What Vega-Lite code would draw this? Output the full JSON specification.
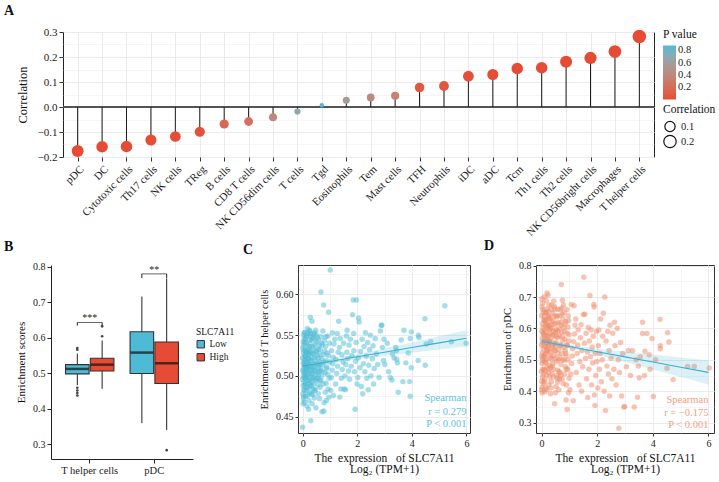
{
"$schema": "https://vega.github.io/schema/vega-lite/v6.json",
"background": "white",
"padding": {"left": 3, "top": 3, "right": 0, "bottom": 0},
"config": {
  "font": "Liberation Serif",
  "axis": {"labelFont": "Liberation Serif", "titleFont": "Liberation Serif", "labelColor": "#1a1a1a", "titleColor": "#111", "tickColor": "#333", "domainColor": "#222", "titleFontWeight": "normal", "labelOverlap": false},
  "legend": {"labelFont": "Liberation Serif", "titleFont": "Liberation Serif", "titleFontWeight": "normal", "labelColor": "#1a1a1a", "titleColor": "#111"},
  "title": {"font": "Liberation Serif", "fontWeight": "bold", "fontSize": 14, "anchor": "start", "frame": "group", "color": "#111"},
  "view": {"stroke": null}
},
"resolve": {"scale": {"color": "independent", "size": "independent", "x": "independent", "y": "independent"}, "legend": {"color": "independent", "size": "independent"}},
"spacing": 0,
"vconcat": [
{
  "bounds": "flush",
  "spacing": 11,
  "resolve": {"scale": {"color": "independent", "size": "independent", "x": "independent", "y": "independent"}, "legend": {"color": "independent", "size": "independent"}},
  "hconcat": [
  {"width": 1, "height": 125, "data": {"values": []}, "mark": "point"},
  {
  "title": {"text": "A", "dx": -59, "offset": 8},
  "width": 591, "height": 125,
  "view": {"stroke": "#222", "strokeWidth": 1},
  "data": {"values": [
    {"cell": "pDC", "r": -0.176, "p": 0.0003},
    {"cell": "DC", "r": -0.159, "p": 0.001},
    {"cell": "Cytotoxic cells", "r": -0.158, "p": 0.001},
    {"cell": "Th17 cells", "r": -0.132, "p": 0.005},
    {"cell": "NK cells", "r": -0.118, "p": 0.01},
    {"cell": "TReg", "r": -0.099, "p": 0.03},
    {"cell": "B cells", "r": -0.068, "p": 0.17},
    {"cell": "CD8 T cells", "r": -0.058, "p": 0.22},
    {"cell": "NK CD56dim cells", "r": -0.041, "p": 0.40},
    {"cell": "T cells", "r": -0.018, "p": 0.70},
    {"cell": "Tgd", "r": 0.007, "p": 0.88},
    {"cell": "Eosinophils", "r": 0.027, "p": 0.56},
    {"cell": "Tem", "r": 0.038, "p": 0.43},
    {"cell": "Mast cells", "r": 0.045, "p": 0.36},
    {"cell": "TFH", "r": 0.078, "p": 0.06},
    {"cell": "Neutrophils", "r": 0.084, "p": 0.05},
    {"cell": "iDC", "r": 0.123, "p": 0.008},
    {"cell": "aDC", "r": 0.130, "p": 0.006},
    {"cell": "Tcm", "r": 0.154, "p": 0.001},
    {"cell": "Th1 cells", "r": 0.157, "p": 0.001},
    {"cell": "Th2 cells", "r": 0.181, "p": 0.0002},
    {"cell": "NK CD56bright cells", "r": 0.196, "p": 0.0001},
    {"cell": "Macrophages", "r": 0.222, "p": 0.00001},
    {"cell": "T helper cells", "r": 0.282, "p": 0.0}
  ]},
  "transform": [{"calculate": "abs(datum.r)", "as": "absr"}],
  "encoding": {
    "y": {"field": "r", "type": "quantitative", "scale": {"domain": [-0.2, 0.3], "nice": false, "zero": false},
      "axis": {"title": "Correlation", "titleFontSize": 12.5, "labelFontSize": 11, "titlePadding": 8,
        "values": [-0.2, -0.15, -0.1, -0.05, 0, 0.05, 0.1, 0.15, 0.2, 0.25, 0.3],
        "labelExpr": "abs(datum.value*10 - round(datum.value*10)) < 0.001 ? format(datum.value, '.1f') : ''",
        "tickOpacity": {"condition": {"test": "abs(datum.value*10 - round(datum.value*10)) > 0.001", "value": 0}, "value": 1},
        "gridWidth": {"condition": {"test": "abs(datum.value*10 - round(datum.value*10)) > 0.001", "value": 0.5}, "value": 1},
        "grid": true, "gridColor": "#EBEBEB", "domain": false, "tickSize": 4}}
  },
  "layer": [
    {"mark": {"type": "rule", "color": "#555", "strokeWidth": 1}, "encoding": {"y": {"datum": 0}}},
    {"mark": {"type": "rule", "color": "#1a1a1a", "strokeWidth": 1}, "encoding": {
      "x": {"field": "cell", "type": "nominal", "sort": null, "scale": {"type": "point", "padding": 0.6},
        "axis": {"title": null, "labelAngle": -45, "labelFontSize": 11, "grid": true, "gridColor": "#EBEBEB", "domain": false, "tickSize": 4, "tickColor": "#333", "labelPadding": 2}},
      "y2": {"datum": 0}}},
    {"mark": {"type": "circle", "opacity": 1}, "encoding": {
      "x": {"field": "cell", "type": "nominal", "sort": null, "scale": {"type": "point", "padding": 0.6},
        "axis": {"title": null, "labelAngle": -45, "labelFontSize": 11, "grid": true, "gridColor": "#EBEBEB", "domain": false, "tickSize": 4, "tickColor": "#333", "labelPadding": 2}},
      "color": {"field": "p", "type": "quantitative", "scale": {"domain": [0, 0.88], "range": ["#E64B35", "#4DBBD5"], "interpolate": "lab"},
        "legend": {"title": "P value", "orient": "none", "legendX": 600, "legendY": -3, "gradientLength": 54, "gradientThickness": 13, "values": [0.2, 0.4, 0.6, 0.8], "labelFontSize": 10.5, "titleFontSize": 11.5, "gradientStrokeWidth": 0}},
      "size": {"field": "absr", "type": "quantitative", "scale": {"type": "sqrt", "zero": false, "domain": [0.007, 0.282], "range": [20, 184]},
        "legend": {"title": "Correlation", "orient": "none", "legendX": 600, "legendY": 72, "values": [0.1, 0.2], "format": ".1f", "rowPadding": -4, "symbolFillColor": "white", "symbolStrokeColor": "#111", "symbolStrokeWidth": 1.2, "labelFontSize": 10.5, "titleFontSize": 11.5, "symbolOpacity": 1}}
    }}
  ]
  }
  ]
},
{
  "bounds": "flush",
  "spacing": 105,
  "resolve": {"scale": {"color": "independent", "x": "independent", "y": "independent"}, "legend": {"color": "independent"}},
  "hconcat": [
  {
    "title": {"text": "B", "dx": -47, "offset": 8},
    "width": 142, "height": 194,
    "encoding": {
      "x": {"field": "cell", "type": "nominal", "sort": null, "scale": {"domain": ["T helper cells", "pDC"], "paddingInner": 0.25, "paddingOuter": 0.225},
        "axis": {"title": null, "labelAngle": 0, "labelFontSize": 10.5, "domain": true, "tickSize": 4, "grid": false, "tickColor": "#222"}},
      "y": {"field": "v", "type": "quantitative", "scale": {"domain": [0.258, 0.805], "nice": false, "zero": false},
        "axis": {"title": "Enrichment scores", "titleFontSize": 11, "labelFontSize": 10, "values": [0.3, 0.4, 0.5, 0.6, 0.7, 0.8], "format": ".1f", "grid": false, "domain": true, "tickSize": 4, "tickColor": "#222", "titlePadding": 6, "labelOverlap": false}}
    },
    "layer": [
      {"data": {"values": [
        {"cell": "T helper cells", "grp": "Low", "v": 0.466, "v2": 0.555},
        {"cell": "T helper cells", "grp": "High", "v": 0.456, "v2": 0.592},
        {"cell": "pDC", "grp": "Low", "v": 0.359, "v2": 0.716},
        {"cell": "pDC", "grp": "High", "v": 0.340, "v2": 0.767}
       ]},
       "mark": {"type": "rule", "color": "#222", "strokeWidth": 1},
       "encoding": {
         "xOffset": {"field": "grp", "type": "nominal", "scale": {"domain": ["Low", "High"], "paddingInner": 0.05}},
         "y2": {"field": "v2"}}},
      {"data": {"values": [
        {"cell": "T helper cells", "grp": "Low", "v": 0.498, "v2": 0.524},
        {"cell": "T helper cells", "grp": "High", "v": 0.506, "v2": 0.542},
        {"cell": "pDC", "grp": "Low", "v": 0.499, "v2": 0.617},
        {"cell": "pDC", "grp": "High", "v": 0.471, "v2": 0.588}
       ]},
       "mark": {"type": "bar", "stroke": "#333", "strokeWidth": 1.1},
       "encoding": {
         "xOffset": {"field": "grp", "type": "nominal", "scale": {"domain": ["Low", "High"], "paddingInner": 0.05}},
         "y2": {"field": "v2"},
         "color": {"field": "grp", "type": "nominal", "scale": {"domain": ["Low", "High"], "range": ["#4DBBD5", "#E64B35"]},
           "legend": {"title": "SLC7A11", "orient": "none", "legendX": 145, "legendY": 62, "symbolType": "square", "symbolSize": 55, "symbolStrokeColor": "#333", "symbolStrokeWidth": 1, "labelFontSize": 9.5, "titleFontSize": 9.5, "rowPadding": 1, "titlePadding": 3}}}},
      {"data": {"values": [
        {"cell": "T helper cells", "grp": "Low", "v": 0.512},
        {"cell": "T helper cells", "grp": "High", "v": 0.524},
        {"cell": "pDC", "grp": "Low", "v": 0.558},
        {"cell": "pDC", "grp": "High", "v": 0.528}
       ]},
       "mark": {"type": "tick", "color": "#111", "thickness": 2.5, "size": 23, "orient": "horizontal"},
       "encoding": {
         "xOffset": {"field": "grp", "type": "nominal", "scale": {"domain": ["Low", "High"], "paddingInner": 0.05}}}},
      {"data": {"values": [
        {"cell": "T helper cells", "grp": "Low", "v": 0.571}, {"cell": "T helper cells", "grp": "Low", "v": 0.566},
        {"cell": "T helper cells", "grp": "Low", "v": 0.459}, {"cell": "T helper cells", "grp": "Low", "v": 0.451},
        {"cell": "T helper cells", "grp": "Low", "v": 0.444}, {"cell": "T helper cells", "grp": "Low", "v": 0.437},
        {"cell": "T helper cells", "grp": "High", "v": 0.604}, {"cell": "T helper cells", "grp": "High", "v": 0.632},
        {"cell": "pDC", "grp": "High", "v": 0.283}
       ]},
       "mark": {"type": "circle", "color": "#444", "size": 7, "opacity": 1},
       "encoding": {
         "xOffset": {"field": "grp", "type": "nominal", "scale": {"domain": ["Low", "High"], "paddingInner": 0.05}}}},
      {"data": {"values": [
        {"cell": "T helper cells", "grp": "Low", "v": 0.634, "v2": 0.643}, {"cell": "T helper cells", "grp": "High", "v": 0.634, "v2": 0.643},
        {"cell": "pDC", "grp": "Low", "v": 0.768, "v2": 0.780}, {"cell": "pDC", "grp": "High", "v": 0.768, "v2": 0.780}
       ]},
       "mark": {"type": "rule", "color": "#222", "strokeWidth": 1},
       "encoding": {
         "xOffset": {"field": "grp", "type": "nominal", "scale": {"domain": ["Low", "High"], "paddingInner": 0.05}},
         "y2": {"field": "v2"}}},
      {"data": {"values": [
        {"cell": "T helper cells", "v": 0.643, "lab": "***"}, {"cell": "pDC", "v": 0.780, "lab": "**"}
       ]},
       "layer": [
         {"mark": {"type": "tick", "color": "#222", "thickness": 1, "size": 25, "orient": "horizontal"}},
         {"mark": {"type": "text", "fontSize": 10, "color": "#222", "baseline": "bottom", "dy": 1},
          "encoding": {"text": {"field": "lab"}}}
       ]}
    ]
  },
  {
    "bounds": "flush",
    "spacing": 66,
    "resolve": {"scale": {"x": "independent", "y": "independent"}},
    "hconcat": [
    {
      "title": {"text": "C", "dx": -55, "offset": 8},
      "width": 172, "height": 168,
      "view": {"stroke": "#333", "strokeWidth": 1},
      "encoding": {
        "x": {"field": "x", "type": "quantitative", "scale": {"domain": [-0.17, 6.13], "nice": false, "zero": false},
          "axis": {"title": ["The\u00a0\u00a0expression\u00a0\u00a0\u00a0of SLC7A11", "Log₂ (TPM+1)"], "titleFontSize": 11.5, "titleLineHeight": 11.5, "labelFontSize": 10, "titlePadding": 4,
            "values": [0, 1, 2, 3, 4, 5, 6], "labelExpr": "datum.value % 2 == 0 ? datum.label : ''",
            "tickOpacity": {"condition": {"test": "datum.value % 2 != 0", "value": 0}, "value": 1},
            "gridWidth": {"condition": {"test": "datum.value % 2 != 0", "value": 0.5}, "value": 1},
            "grid": true, "gridColor": "#EBEBEB", "domain": false, "tickSize": 3}},
        "y": {"field": "y", "type": "quantitative", "scale": {"domain": [0.43, 0.636], "nice": false, "zero": false},
          "axis": {"title": "Enrichment of T helper cells", "titleFontSize": 10.5, "labelFontSize": 10, "titlePadding": 6,
            "values": [0.45, 0.475, 0.5, 0.525, 0.55, 0.575, 0.6, 0.625],
            "labelExpr": "round(datum.value*1000) % 50 == 0 ? format(datum.value, '.2f') : ''",
            "tickOpacity": {"condition": {"test": "round(datum.value*1000) % 50 != 0", "value": 0}, "value": 1},
            "gridWidth": {"condition": {"test": "round(datum.value*1000) % 50 != 0", "value": 0.5}, "value": 1},
            "grid": true, "gridColor": "#EBEBEB", "domain": false, "tickSize": 3}}
      },
      "layer": [
        {"data": {"values": [
{"x":0.00,"y":0.437},{"x":0.02,"y":0.466},{"x":0.03,"y":0.472},{"x":0.01,"y":0.478},{"x":0.04,"y":0.483},{"x":0.02,"y":0.488},{"x":0.05,"y":0.492},{"x":0.00,"y":0.496},{"x":0.03,"y":0.500},{"x":0.06,"y":0.503},{"x":0.01,"y":0.507},{"x":0.04,"y":0.510},{"x":0.08,"y":0.513},{"x":0.02,"y":0.516},{"x":0.05,"y":0.519},{"x":0.00,"y":0.522},{"x":0.07,"y":0.525},{"x":0.03,"y":0.528},{"x":0.09,"y":0.531},{"x":0.01,"y":0.535},{"x":0.05,"y":0.538},{"x":0.02,"y":0.542},{"x":0.06,"y":0.546},{"x":0.04,"y":0.550},{"x":0.08,"y":0.553},{"x":0.10,"y":0.507},{"x":0.09,"y":0.497},{"x":0.07,"y":0.489},{"x":0.10,"y":0.520},{"x":0.06,"y":0.468},
{"x":0.12,"y":0.475},{"x":0.15,"y":0.482},{"x":0.11,"y":0.491},{"x":0.18,"y":0.494},{"x":0.13,"y":0.499},{"x":0.20,"y":0.502},{"x":0.14,"y":0.505},{"x":0.17,"y":0.509},{"x":0.12,"y":0.512},{"x":0.22,"y":0.514},{"x":0.16,"y":0.517},{"x":0.19,"y":0.521},{"x":0.13,"y":0.524},{"x":0.24,"y":0.527},{"x":0.15,"y":0.530},{"x":0.21,"y":0.533},{"x":0.18,"y":0.537},{"x":0.11,"y":0.541},{"x":0.25,"y":0.544},{"x":0.14,"y":0.548},{"x":0.20,"y":0.552},{"x":0.27,"y":0.555},{"x":0.17,"y":0.558},{"x":0.28,"y":0.572},{"x":0.30,"y":0.445},{"x":0.23,"y":0.470},{"x":0.26,"y":0.487},{"x":0.29,"y":0.497},{"x":0.24,"y":0.508},{"x":0.28,"y":0.518},{"x":0.30,"y":0.529},{"x":0.26,"y":0.540},{"x":0.29,"y":0.549},{"x":0.16,"y":0.463},{"x":0.22,"y":0.459},{"x":0.19,"y":0.486},{"x":0.27,"y":0.503},{"x":0.21,"y":0.525},{"x":0.25,"y":0.536},{"x":0.12,"y":0.531},
{"x":0.32,"y":0.478},{"x":0.35,"y":0.466},{"x":0.38,"y":0.484},{"x":0.33,"y":0.492},{"x":0.41,"y":0.498},{"x":0.36,"y":0.503},{"x":0.44,"y":0.507},{"x":0.31,"y":0.511},{"x":0.39,"y":0.515},{"x":0.47,"y":0.519},{"x":0.34,"y":0.523},{"x":0.42,"y":0.527},{"x":0.50,"y":0.531},{"x":0.37,"y":0.535},{"x":0.45,"y":0.539},{"x":0.33,"y":0.544},{"x":0.53,"y":0.547},{"x":0.40,"y":0.551},{"x":0.48,"y":0.556},{"x":0.34,"y":0.567},{"x":0.56,"y":0.489},{"x":0.52,"y":0.495},{"x":0.58,"y":0.501},{"x":0.55,"y":0.512},{"x":0.59,"y":0.522},{"x":0.51,"y":0.542},{"x":0.46,"y":0.483},{"x":0.43,"y":0.473},{"x":0.49,"y":0.461},{"x":0.57,"y":0.478},{"x":0.54,"y":0.505},{"x":0.60,"y":0.537},{"x":0.38,"y":0.509},{"x":0.46,"y":0.495},{"x":0.41,"y":0.546},
{"x":0.62,"y":0.472},{"x":0.64,"y":0.486},{"x":0.67,"y":0.603},{"x":0.63,"y":0.495},{"x":0.70,"y":0.500},{"x":0.66,"y":0.507},{"x":0.73,"y":0.513},{"x":0.61,"y":0.517},{"x":0.69,"y":0.521},{"x":0.76,"y":0.526},{"x":0.65,"y":0.532},{"x":0.72,"y":0.538},{"x":0.80,"y":0.543},{"x":0.68,"y":0.548},{"x":0.77,"y":0.587},{"x":0.74,"y":0.555},{"x":0.71,"y":0.456},{"x":0.79,"y":0.467},{"x":0.83,"y":0.480},{"x":0.86,"y":0.491},{"x":0.82,"y":0.504},{"x":0.88,"y":0.511},{"x":0.85,"y":0.519},{"x":0.90,"y":0.528},{"x":0.84,"y":0.536},{"x":0.92,"y":0.549},{"x":0.95,"y":0.578},{"x":0.87,"y":0.470},{"x":0.93,"y":0.484},{"x":0.97,"y":0.497},{"x":0.89,"y":0.509},{"x":0.99,"y":0.517},{"x":0.94,"y":0.525},{"x":1.01,"y":0.630},{"x":0.98,"y":0.540},{"x":0.78,"y":0.457},{"x":0.96,"y":0.474},{"x":0.75,"y":0.490},
{"x":1.03,"y":0.482},{"x":1.05,"y":0.498},{"x":1.08,"y":0.507},{"x":1.10,"y":0.515},{"x":1.12,"y":0.523},{"x":1.06,"y":0.531},{"x":1.15,"y":0.539},{"x":1.18,"y":0.545},{"x":1.09,"y":0.553},{"x":1.21,"y":0.490},{"x":1.25,"y":0.503},{"x":1.28,"y":0.512},{"x":1.22,"y":0.520},{"x":1.32,"y":0.567},{"x":1.30,"y":0.529},{"x":1.35,"y":0.535},{"x":1.38,"y":0.546},{"x":1.27,"y":0.552},{"x":1.40,"y":0.484},{"x":1.42,"y":0.497},{"x":1.45,"y":0.508},{"x":1.48,"y":0.517},{"x":1.44,"y":0.526},{"x":1.52,"y":0.484},{"x":1.55,"y":0.500},{"x":1.58,"y":0.514},{"x":1.50,"y":0.540},{"x":1.62,"y":0.529},{"x":1.65,"y":0.521},{"x":1.60,"y":0.549},{"x":1.68,"y":0.506},{"x":1.72,"y":0.496},{"x":1.70,"y":0.538},{"x":1.75,"y":0.545},{"x":1.78,"y":0.512},{"x":1.80,"y":0.525},{"x":1.83,"y":0.575},{"x":1.85,"y":0.593},{"x":1.88,"y":0.531},{"x":1.90,"y":0.505},{"x":1.92,"y":0.459},{"x":1.94,"y":0.518},{"x":1.97,"y":0.593},{"x":1.96,"y":0.541},{"x":1.99,"y":0.490},{"x":1.13,"y":0.476},{"x":1.36,"y":0.474},{"x":1.57,"y":0.483},{"x":1.87,"y":0.552},{"x":1.63,"y":0.556},
{"x":2.02,"y":0.498},{"x":2.05,"y":0.571},{"x":2.07,"y":0.566},{"x":2.04,"y":0.522},{"x":2.10,"y":0.510},{"x":2.12,"y":0.530},{"x":2.15,"y":0.487},{"x":2.18,"y":0.545},{"x":2.20,"y":0.478},{"x":2.22,"y":0.515},{"x":2.25,"y":0.536},{"x":2.28,"y":0.505},{"x":2.30,"y":0.553},{"x":2.33,"y":0.524},{"x":2.35,"y":0.497},{"x":2.38,"y":0.541},{"x":2.42,"y":0.513},{"x":2.45,"y":0.532},{"x":2.48,"y":0.550},{"x":2.50,"y":0.500},{"x":2.55,"y":0.521},{"x":2.58,"y":0.537},{"x":2.62,"y":0.509},{"x":2.66,"y":0.546},{"x":2.70,"y":0.527},{"x":2.75,"y":0.514},{"x":2.80,"y":0.498},{"x":2.85,"y":0.555},{"x":2.88,"y":0.562},{"x":2.92,"y":0.535},{"x":2.96,"y":0.519},{"x":2.90,"y":0.562},{"x":2.98,"y":0.545},{"x":2.60,"y":0.490},{"x":2.40,"y":0.483},
{"x":3.01,"y":0.514},{"x":3.21,"y":0.498},{"x":3.27,"y":0.495},{"x":3.29,"y":0.527},{"x":3.35,"y":0.522},{"x":3.41,"y":0.535},{"x":3.43,"y":0.531},{"x":3.45,"y":0.520},{"x":3.47,"y":0.516},{"x":3.50,"y":0.480},{"x":3.61,"y":0.544},{"x":3.67,"y":0.493},{"x":3.71,"y":0.556},{"x":3.78,"y":0.516},{"x":3.87,"y":0.528},{"x":3.92,"y":0.493},{"x":3.94,"y":0.546},{"x":3.94,"y":0.475},{"x":3.98,"y":0.554},{"x":3.98,"y":0.510},{"x":4.23,"y":0.519},{"x":4.24,"y":0.550},{"x":4.26,"y":0.547},{"x":4.48,"y":0.570},{"x":4.49,"y":0.513},{"x":4.53,"y":0.539},{"x":4.69,"y":0.542},{"x":5.21,"y":0.586},{"x":5.45,"y":0.542},{"x":5.99,"y":0.540},{"x":3.10,"y":0.540},{"x":3.15,"y":0.505},
{"x":0.03,"y":0.505},{"x":0.05,"y":0.514},{"x":0.07,"y":0.498},{"x":0.09,"y":0.524},{"x":0.02,"y":0.532},{"x":0.06,"y":0.541},{"x":0.11,"y":0.502},{"x":0.13,"y":0.517},{"x":0.15,"y":0.509},{"x":0.17,"y":0.528},{"x":0.19,"y":0.498},{"x":0.21,"y":0.513},{"x":0.23,"y":0.521},{"x":0.25,"y":0.494},{"x":0.27,"y":0.531},{"x":0.29,"y":0.508},{"x":0.31,"y":0.519},{"x":0.33,"y":0.503},{"x":0.35,"y":0.528},{"x":0.37,"y":0.497},{"x":0.39,"y":0.536},{"x":0.41,"y":0.512},{"x":0.43,"y":0.522},{"x":0.45,"y":0.506},{"x":0.47,"y":0.530},{"x":0.49,"y":0.501},{"x":0.51,"y":0.515},{"x":0.53,"y":0.525},{"x":0.55,"y":0.497},{"x":0.57,"y":0.533},{"x":0.59,"y":0.510},{"x":0.61,"y":0.505},{"x":0.63,"y":0.527},{"x":0.65,"y":0.514},{"x":0.67,"y":0.494},{"x":0.69,"y":0.540},{"x":0.04,"y":0.475},{"x":0.08,"y":0.482},{"x":0.14,"y":0.486},{"x":0.18,"y":0.476},{"x":0.22,"y":0.491},{"x":0.26,"y":0.480},{"x":0.32,"y":0.488},{"x":0.36,"y":0.477},{"x":0.40,"y":0.490},{"x":0.44,"y":0.482},{"x":0.06,"y":0.553},{"x":0.10,"y":0.545},{"x":0.16,"y":0.550},{"x":0.24,"y":0.556},{"x":0.30,"y":0.552},{"x":0.36,"y":0.547},{"x":0.44,"y":0.553},{"x":0.52,"y":0.550},{"x":0.58,"y":0.544},{"x":0.72,"y":0.506},{"x":0.78,"y":0.517},{"x":0.81,"y":0.530},{"x":0.91,"y":0.502},{"x":0.85,"y":0.548}
        ]},
         "mark": {"type": "circle", "color": "#4DBBD5", "opacity": 0.5, "size": 30}},
        {"data": {"values": [
          {"x": 0, "y": 0.512, "lo": 0.5089, "hi": 0.5151}, {"x": 1, "y": 0.5177, "lo": 0.5152, "hi": 0.5202},
          {"x": 2, "y": 0.5234, "lo": 0.5203, "hi": 0.5265}, {"x": 3, "y": 0.5291, "lo": 0.5246, "hi": 0.5336},
          {"x": 4, "y": 0.5348, "lo": 0.5285, "hi": 0.5411}, {"x": 5, "y": 0.5405, "lo": 0.5325, "hi": 0.5485},
          {"x": 6, "y": 0.5462, "lo": 0.5364, "hi": 0.5560}
         ]},
         "layer": [
           {"mark": {"type": "area", "color": "#4DBBD5", "opacity": 0.22}, "encoding": {"y": {"field": "lo", "type": "quantitative"}, "y2": {"field": "hi"}}},
           {"mark": {"type": "line", "color": "#3AAFCF", "strokeWidth": 1.1}, "encoding": {"y": {"field": "y", "type": "quantitative"}}}
         ]},
        {"data": {"values": [
          {"x": 6.0, "y": 0.4734, "t": "Spearman"}, {"x": 6.0, "y": 0.4563, "t": "r = 0.279"}, {"x": 6.0, "y": 0.4408, "t": "P < 0.001"}
         ]},
         "mark": {"type": "text", "align": "right", "baseline": "middle", "fontSize": 10.5, "color": "#62C2DB"},
         "encoding": {"text": {"field": "t"}}}
      ]
    },
    {
      "title": {"text": "D", "dx": -52, "offset": 8},
      "width": 178, "height": 168,
      "view": {"stroke": "#333", "strokeWidth": 1},
      "encoding": {
        "x": {"field": "x", "type": "quantitative", "scale": {"domain": [-0.2, 6.2], "nice": false, "zero": false},
          "axis": {"title": ["The\u00a0\u00a0expression\u00a0\u00a0\u00a0of SLC7A11", "Log₂ (TPM+1)"], "titleFontSize": 11.5, "titleLineHeight": 11.5, "labelFontSize": 10, "titlePadding": 4,
            "values": [0, 1, 2, 3, 4, 5, 6], "labelExpr": "datum.value % 2 == 0 ? datum.label : ''",
            "tickOpacity": {"condition": {"test": "datum.value % 2 != 0", "value": 0}, "value": 1},
            "gridWidth": {"condition": {"test": "datum.value % 2 != 0", "value": 0.5}, "value": 1},
            "grid": true, "gridColor": "#EBEBEB", "domain": false, "tickSize": 3}},
        "y": {"field": "y", "type": "quantitative", "scale": {"domain": [0.267, 0.802], "nice": false, "zero": false},
          "axis": {"title": "Enrichment of pDC", "titleFontSize": 10.5, "labelFontSize": 10, "titlePadding": 6,
            "values": [0.3, 0.35, 0.4, 0.45, 0.5, 0.55, 0.6, 0.65, 0.7, 0.75, 0.8],
            "labelExpr": "round(datum.value*100) % 10 == 0 ? format(datum.value, '.1f') : ''",
            "tickOpacity": {"condition": {"test": "round(datum.value*100) % 10 != 0", "value": 0}, "value": 1},
            "gridWidth": {"condition": {"test": "round(datum.value*100) % 10 != 0", "value": 0.5}, "value": 1},
            "grid": true, "gridColor": "#EBEBEB", "domain": false, "tickSize": 3}}
      },
      "layer": [
        {"data": {"values": [
{"x":0.00,"y":0.405},{"x":0.02,"y":0.413},{"x":0.01,"y":0.432},{"x":0.03,"y":0.445},{"x":0.00,"y":0.462},{"x":0.04,"y":0.470},{"x":0.02,"y":0.488},{"x":0.05,"y":0.497},{"x":0.01,"y":0.512},{"x":0.03,"y":0.522},{"x":0.06,"y":0.535},{"x":0.00,"y":0.548},{"x":0.04,"y":0.556},{"x":0.02,"y":0.568},{"x":0.07,"y":0.579},{"x":0.01,"y":0.590},{"x":0.05,"y":0.602},{"x":0.03,"y":0.615},{"x":0.08,"y":0.628},{"x":0.00,"y":0.640},{"x":0.06,"y":0.652},{"x":0.02,"y":0.668},{"x":0.04,"y":0.680},{"x":0.01,"y":0.694},{"x":0.09,"y":0.700},{"x":0.08,"y":0.470},{"x":0.10,"y":0.510},{"x":0.09,"y":0.595},{"x":0.07,"y":0.425},{"x":0.10,"y":0.640},
{"x":0.12,"y":0.398},{"x":0.15,"y":0.410},{"x":0.11,"y":0.438},{"x":0.18,"y":0.452},{"x":0.13,"y":0.466},{"x":0.20,"y":0.478},{"x":0.14,"y":0.491},{"x":0.17,"y":0.503},{"x":0.12,"y":0.517},{"x":0.22,"y":0.529},{"x":0.16,"y":0.541},{"x":0.19,"y":0.553},{"x":0.13,"y":0.566},{"x":0.24,"y":0.577},{"x":0.15,"y":0.589},{"x":0.21,"y":0.601},{"x":0.18,"y":0.613},{"x":0.11,"y":0.626},{"x":0.25,"y":0.638},{"x":0.14,"y":0.650},{"x":0.20,"y":0.662},{"x":0.27,"y":0.675},{"x":0.17,"y":0.688},{"x":0.20,"y":0.713},{"x":0.23,"y":0.706},{"x":0.26,"y":0.420},{"x":0.29,"y":0.445},{"x":0.28,"y":0.483},{"x":0.30,"y":0.507},{"x":0.24,"y":0.535},{"x":0.28,"y":0.560},{"x":0.30,"y":0.583},{"x":0.26,"y":0.609},{"x":0.29,"y":0.632},{"x":0.23,"y":0.655},{"x":0.16,"y":0.520},{"x":0.22,"y":0.565},{"x":0.27,"y":0.596},{"x":0.19,"y":0.628},{"x":0.25,"y":0.546},{"x":0.12,"y":0.580},{"x":0.14,"y":0.610},
{"x":0.32,"y":0.392},{"x":0.35,"y":0.430},{"x":0.38,"y":0.456},{"x":0.33,"y":0.474},{"x":0.41,"y":0.488},{"x":0.36,"y":0.501},{"x":0.44,"y":0.513},{"x":0.31,"y":0.526},{"x":0.39,"y":0.539},{"x":0.47,"y":0.551},{"x":0.34,"y":0.563},{"x":0.42,"y":0.576},{"x":0.50,"y":0.588},{"x":0.37,"y":0.600},{"x":0.45,"y":0.613},{"x":0.33,"y":0.625},{"x":0.53,"y":0.637},{"x":0.40,"y":0.649},{"x":0.48,"y":0.662},{"x":0.36,"y":0.675},{"x":0.44,"y":0.687},{"x":0.47,"y":0.360},{"x":0.52,"y":0.415},{"x":0.56,"y":0.442},{"x":0.58,"y":0.468},{"x":0.55,"y":0.495},{"x":0.59,"y":0.520},{"x":0.51,"y":0.545},{"x":0.57,"y":0.571},{"x":0.54,"y":0.596},{"x":0.60,"y":0.620},{"x":0.46,"y":0.640},{"x":0.58,"y":0.660},{"x":0.39,"y":0.580},{"x":0.43,"y":0.470},{"x":0.49,"y":0.530},{"x":0.35,"y":0.612},{"x":0.52,"y":0.555},
{"x":0.62,"y":0.405},{"x":0.64,"y":0.438},{"x":0.71,"y":0.740},{"x":0.63,"y":0.462},{"x":0.70,"y":0.485},{"x":0.66,"y":0.507},{"x":0.73,"y":0.520},{"x":0.61,"y":0.534},{"x":0.69,"y":0.548},{"x":0.76,"y":0.562},{"x":0.65,"y":0.575},{"x":0.72,"y":0.589},{"x":0.80,"y":0.603},{"x":0.68,"y":0.617},{"x":0.77,"y":0.631},{"x":0.74,"y":0.646},{"x":0.67,"y":0.660},{"x":0.79,"y":0.675},{"x":0.83,"y":0.455},{"x":0.86,"y":0.478},{"x":0.82,"y":0.498},{"x":0.88,"y":0.513},{"x":0.85,"y":0.530},{"x":0.90,"y":0.548},{"x":0.84,"y":0.566},{"x":0.92,"y":0.585},{"x":0.95,"y":0.604},{"x":0.87,"y":0.622},{"x":0.92,"y":0.342},{"x":0.88,"y":0.372},{"x":0.97,"y":0.395},{"x":0.89,"y":0.420},{"x":0.99,"y":0.441},{"x":0.94,"y":0.470},{"x":0.98,"y":0.560},{"x":0.78,"y":0.425},{"x":0.96,"y":0.640},{"x":0.75,"y":0.690},
{"x":1.02,"y":0.405},{"x":1.05,"y":0.455},{"x":1.07,"y":0.676},{"x":1.08,"y":0.488},{"x":1.10,"y":0.512},{"x":1.12,"y":0.535},{"x":1.15,"y":0.558},{"x":1.18,"y":0.582},{"x":1.17,"y":0.672},{"x":1.20,"y":0.610},{"x":1.23,"y":0.630},{"x":1.25,"y":0.460},{"x":1.28,"y":0.520},{"x":1.30,"y":0.547},{"x":1.32,"y":0.596},{"x":1.35,"y":0.420},{"x":1.38,"y":0.495},{"x":1.40,"y":0.570},{"x":1.42,"y":0.612},{"x":1.45,"y":0.530},{"x":1.48,"y":0.478},{"x":1.50,"y":0.644},{"x":1.52,"y":0.763},{"x":1.54,"y":0.553},{"x":1.56,"y":0.645},{"x":1.58,"y":0.505},{"x":1.60,"y":0.585},{"x":1.62,"y":0.440},{"x":1.65,"y":0.525},{"x":1.68,"y":0.603},{"x":1.70,"y":0.470},{"x":1.72,"y":0.560},{"x":1.74,"y":0.705},{"x":1.76,"y":0.510},{"x":1.78,"y":0.596},{"x":1.80,"y":0.420},{"x":1.82,"y":0.540},{"x":1.84,"y":0.490},{"x":1.86,"y":0.575},{"x":1.88,"y":0.676},{"x":1.89,"y":0.668},{"x":1.90,"y":0.388},{"x":1.92,"y":0.355},{"x":1.93,"y":0.520},{"x":1.95,"y":0.450},{"x":1.97,"y":0.590},{"x":1.99,"y":0.495},{"x":1.14,"y":0.370},{"x":1.44,"y":0.400},{"x":1.66,"y":0.380},
{"x":2.02,"y":0.410},{"x":2.04,"y":0.545},{"x":2.06,"y":0.595},{"x":2.08,"y":0.470},{"x":2.10,"y":0.520},{"x":2.12,"y":0.630},{"x":2.15,"y":0.430},{"x":2.18,"y":0.500},{"x":2.20,"y":0.575},{"x":2.22,"y":0.648},{"x":2.25,"y":0.400},{"x":2.27,"y":0.700},{"x":2.30,"y":0.339},{"x":2.32,"y":0.560},{"x":2.35,"y":0.480},{"x":2.38,"y":0.590},{"x":2.40,"y":0.455},{"x":2.43,"y":0.530},{"x":2.46,"y":0.610},{"x":2.50,"y":0.505},{"x":2.53,"y":0.440},{"x":2.56,"y":0.585},{"x":2.60,"y":0.470},{"x":2.64,"y":0.545},{"x":2.68,"y":0.420},{"x":2.72,"y":0.600},{"x":2.76,"y":0.500},{"x":2.78,"y":0.282},{"x":2.80,"y":0.460},{"x":2.84,"y":0.555},{"x":2.88,"y":0.385},{"x":2.92,"y":0.520},{"x":2.96,"y":0.350},{"x":2.99,"y":0.351},{"x":2.45,"y":0.385},{"x":2.62,"y":0.620},
{"x":3.05,"y":0.478},{"x":3.12,"y":0.530},{"x":3.20,"y":0.450},{"x":3.27,"y":0.529},{"x":3.33,"y":0.350},{"x":3.40,"y":0.500},{"x":3.45,"y":0.381},{"x":3.51,"y":0.443},{"x":3.55,"y":0.510},{"x":3.63,"y":0.620},{"x":3.63,"y":0.584},{"x":3.72,"y":0.527},{"x":3.79,"y":0.584},{"x":3.87,"y":0.516},{"x":3.90,"y":0.470},{"x":3.97,"y":0.568},{"x":4.02,"y":0.383},{"x":4.10,"y":0.500},{"x":4.26,"y":0.629},{"x":4.27,"y":0.545},{"x":4.27,"y":0.535},{"x":4.51,"y":0.473},{"x":4.53,"y":0.586},{"x":4.58,"y":0.557},{"x":4.73,"y":0.437},{"x":5.25,"y":0.479},{"x":5.49,"y":0.479},{"x":6.03,"y":0.474},{"x":3.48,"y":0.480},{"x":3.70,"y":0.450},
{"x":0.03,"y":0.505},{"x":0.06,"y":0.585},{"x":0.09,"y":0.545},{"x":0.05,"y":0.660},{"x":0.08,"y":0.455},{"x":0.11,"y":0.560},{"x":0.13,"y":0.625},{"x":0.15,"y":0.495},{"x":0.17,"y":0.650},{"x":0.19,"y":0.530},{"x":0.21,"y":0.575},{"x":0.23,"y":0.610},{"x":0.25,"y":0.470},{"x":0.27,"y":0.640},{"x":0.29,"y":0.555},{"x":0.31,"y":0.600},{"x":0.33,"y":0.515},{"x":0.35,"y":0.660},{"x":0.37,"y":0.545},{"x":0.39,"y":0.480},{"x":0.41,"y":0.625},{"x":0.43,"y":0.590},{"x":0.45,"y":0.530},{"x":0.47,"y":0.670},{"x":0.49,"y":0.505},{"x":0.51,"y":0.615},{"x":0.53,"y":0.575},{"x":0.55,"y":0.450},{"x":0.57,"y":0.640},{"x":0.59,"y":0.590},{"x":0.61,"y":0.500},{"x":0.63,"y":0.600},{"x":0.65,"y":0.640},{"x":0.67,"y":0.545},{"x":0.69,"y":0.450},{"x":0.71,"y":0.610},{"x":0.73,"y":0.665},{"x":0.75,"y":0.575},{"x":0.77,"y":0.500},{"x":0.79,"y":0.540},{"x":0.81,"y":0.650},{"x":0.83,"y":0.590},{"x":0.85,"y":0.615},{"x":0.87,"y":0.520},{"x":0.89,"y":0.470},{"x":0.91,"y":0.660},{"x":0.93,"y":0.545},{"x":0.95,"y":0.500},{"x":0.97,"y":0.625},{"x":0.99,"y":0.580},{"x":0.02,"y":0.395},{"x":0.10,"y":0.430},{"x":0.18,"y":0.405},{"x":0.26,"y":0.460},{"x":0.34,"y":0.410},{"x":0.42,"y":0.445},{"x":0.50,"y":0.395},{"x":0.58,"y":0.430},{"x":0.66,"y":0.460},{"x":0.74,"y":0.440}
        ]},
         "mark": {"type": "circle", "color": "#F08A68", "opacity": 0.5, "size": 30}},
        {"data": {"values": [
          {"x": 0, "y": 0.559, "lo": 0.5494, "hi": 0.5686}, {"x": 1, "y": 0.5425, "lo": 0.5365, "hi": 0.5485},
          {"x": 2, "y": 0.526, "lo": 0.5164, "hi": 0.5356}, {"x": 3, "y": 0.5095, "lo": 0.4935, "hi": 0.5255},
          {"x": 4, "y": 0.493, "lo": 0.4694, "hi": 0.5166}, {"x": 5, "y": 0.4765, "lo": 0.4455, "hi": 0.5075},
          {"x": 6, "y": 0.460, "lo": 0.4216, "hi": 0.4984}
         ]},
         "layer": [
           {"mark": {"type": "area", "color": "#4DBBD5", "opacity": 0.2}, "encoding": {"y": {"field": "lo", "type": "quantitative"}, "y2": {"field": "hi"}}},
           {"mark": {"type": "line", "color": "#3AAFCF", "strokeWidth": 1.1}, "encoding": {"y": {"field": "y", "type": "quantitative"}}}
         ]},
        {"data": {"values": [
          {"x": 6.0, "y": 0.3736, "t": "Spearman"}, {"x": 6.0, "y": 0.3312, "t": "r = −0.175"}, {"x": 6.0, "y": 0.2930, "t": "P < 0.001"}
         ]},
         "mark": {"type": "text", "align": "right", "baseline": "middle", "fontSize": 10.5, "color": "#F4A084"},
         "encoding": {"text": {"field": "t"}}}
      ]
    }
    ]
  }
  ]
}
]
}
